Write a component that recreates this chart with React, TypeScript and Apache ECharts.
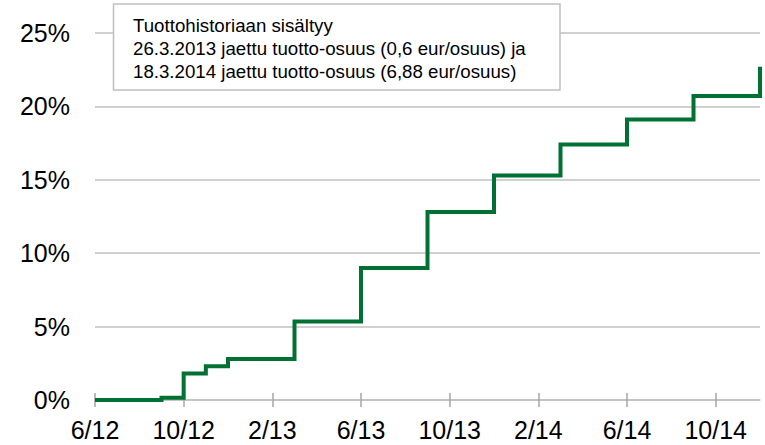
import React, { useEffect, useRef } from "react";
import * as echarts from "echarts";

const months: string[] = [
  "6/12", "7/12", "8/12", "9/12", "10/12", "11/12", "12/12",
  "1/13", "2/13", "3/13", "4/13", "5/13", "6/13", "7/13", "8/13", "9/13", "10/13", "11/13", "12/13",
  "1/14", "2/14", "3/14", "4/14", "5/14", "6/14", "7/14", "8/14", "9/14", "10/14", "11/14", "12/14",
];

const returns: number[] = [
  0, 0, 0, 0.15, 1.8, 2.3, 2.8,
  2.8, 2.8, 5.35, 5.35, 5.35, 9.0, 9.0, 9.0, 12.8, 12.8, 12.8, 15.3,
  15.3, 15.3, 17.4, 17.4, 17.4, 19.1, 19.1, 19.1, 20.7, 20.7, 20.7, 22.7,
];

const noteLines: string[] = [
  "Tuottohistoriaan sisältyy",
  "26.3.2013 jaettu tuotto-osuus (0,6 eur/osuus) ja",
  "18.3.2014 jaettu tuotto-osuus (6,88 eur/osuus)",
];

const FONT = "'Liberation Sans', Arial, sans-serif";
const GRID = "#c0c0c0";

export default function App() {
  const ref = useRef<HTMLDivElement>(null);
  useEffect(() => {
    if (!ref.current) return;
    const chart = echarts.init(ref.current, undefined, { renderer: "svg" });
    const lineCenters = [25.5, 48.5, 71];
    chart.setOption({
      animation: false,
      backgroundColor: "#ffffff",
      grid: { left: 95, right: 5, top: 33, bottom: 45, containLabel: false },
      xAxis: [
        {
          type: "category",
          data: months,
          boundaryGap: false,
          axisLine: { show: true, lineStyle: { color: GRID, width: 1.5 } },
          axisTick: { show: true, interval: 3, length: 7, lineStyle: { color: "#a6a6a6", width: 1.5 } },
          axisLabel: { interval: 3, color: "#000", fontSize: 25, fontFamily: FONT, margin: 17 },
          splitLine: { show: false },
        },
        {
          type: "category",
          data: months,
          boundaryGap: false,
          position: "bottom",
          axisLine: { show: false },
          axisTick: { show: true, inside: true, interval: 3, length: 7, lineStyle: { color: "#a6a6a6", width: 1.5 } },
          axisLabel: { show: false },
          splitLine: { show: false },
        },
      ],
      yAxis: {
        type: "value",
        min: 0,
        max: 25,
        interval: 5,
        axisLine: { show: false },
        axisTick: { show: false },
        axisLabel: { formatter: "{value}%", color: "#000", fontSize: 25, fontFamily: FONT, margin: 25 },
        splitLine: { show: true, lineStyle: { color: GRID, width: 1.5 } },
      },
      series: [
        {
          type: "line",
          data: returns,
          step: "end",
          showSymbol: false,
          symbol: "none",
          lineStyle: { color: "#007033", width: 4, join: "miter", cap: "butt" },
          z: 3,
        },
      ],
      graphic: [
        {
          type: "rect",
          z: 10,
          shape: { x: 113.5, y: 4, width: 446.5, height: 86 },
          style: { fill: "#ffffff", stroke: "#bfbfbf", lineWidth: 1.5 },
        },
        ...noteLines.map((t, i) => ({
          type: "text",
          z: 11,
          x: 133,
          y: lineCenters[i],
          style: {
            text: t,
            fill: "#000",
            font: `18.7px ${FONT}`,
            verticalAlign: "middle",
            align: "left",
          },
        })),
      ],
    });
    return () => chart.dispose();
  }, []);
  return <div ref={ref} style={{ width: 765, height: 445, position: "absolute", left: 0, top: 0 }} />;
}
